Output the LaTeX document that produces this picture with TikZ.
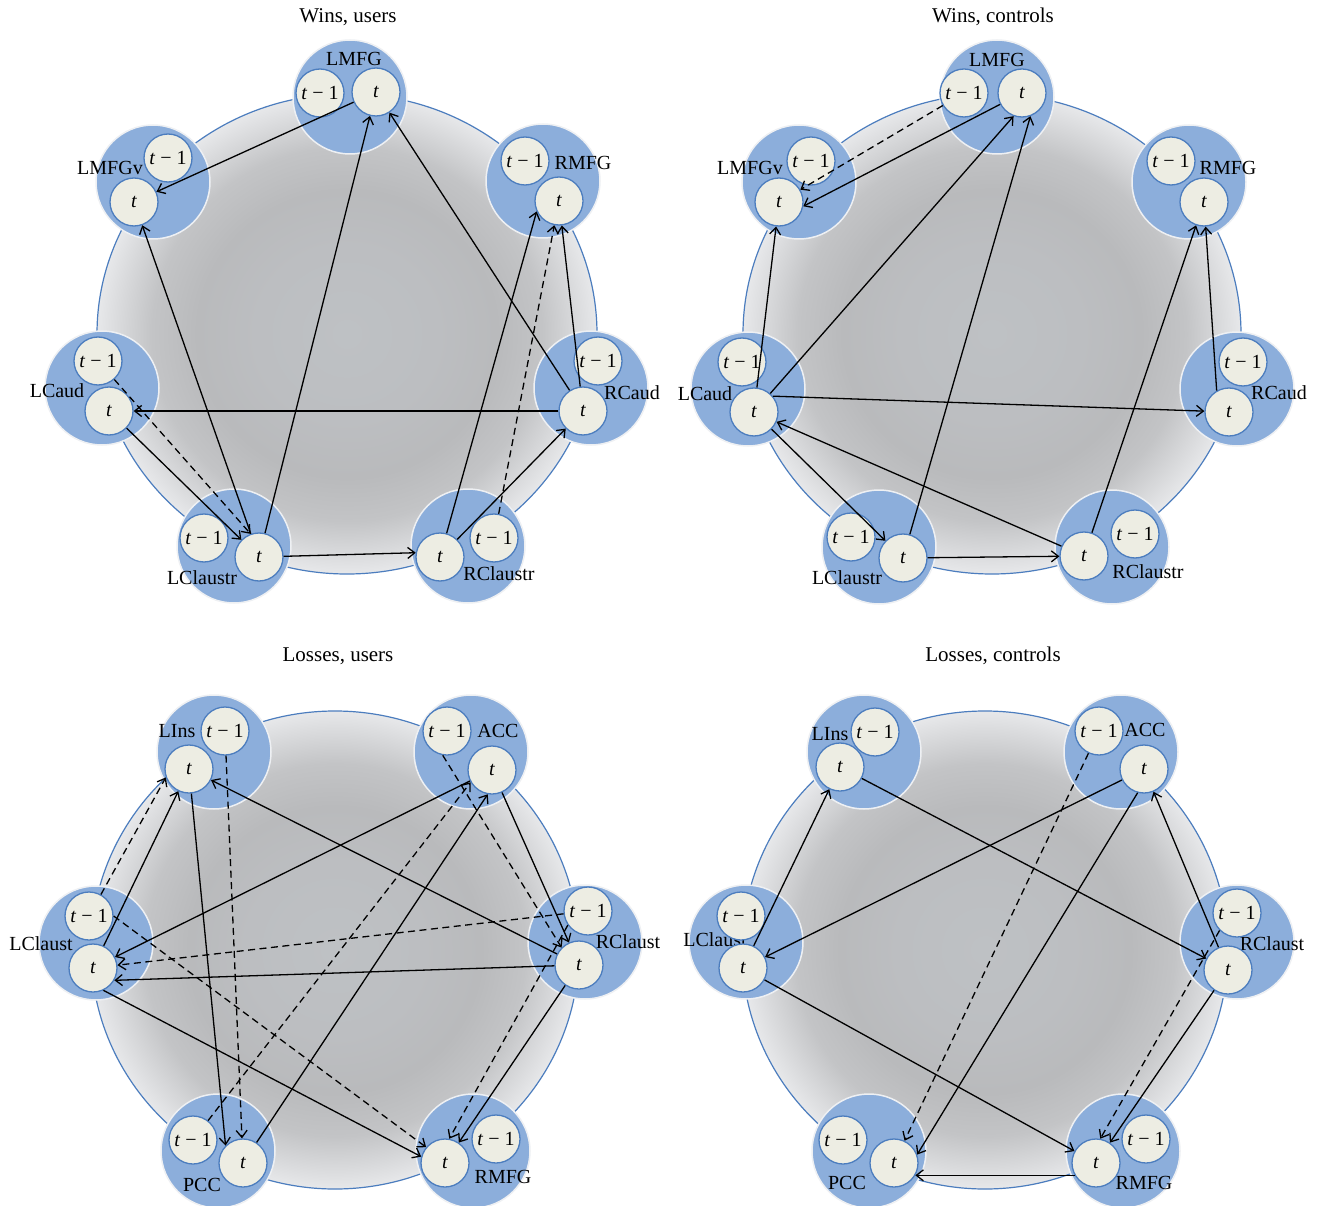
\documentclass[tikz,border=0pt]{standalone}
\usepackage{fontspec}
\setmainfont{Liberation Serif}
\usetikzlibrary{arrows.meta}
\definecolor{outerfill}{HTML}{8CAEDB}
\definecolor{outerline}{HTML}{EEF0F3}
\definecolor{innerfill}{HTML}{EDEDE3}
\definecolor{innerline}{HTML}{4C7DBE}
\definecolor{bigline}{HTML}{4C7DBE}
\definecolor{bga}{HTML}{BEC1C4}
\definecolor{bgb}{HTML}{BCBEC1}
\definecolor{bgc}{HTML}{B9BABC}
\definecolor{bgm}{HTML}{C3C4C6}
\definecolor{bge}{HTML}{E7E8EA}
\pgfdeclareradialshading{bigsh}{\pgfpoint{0bp}{0bp}}{color(0bp)=(bga); color(9bp)=(bgb); color(15bp)=(bgc); color(19.5bp)=(bgm); color(25bp)=(bge); color(50bp)=(bge)}
\newcommand{\region}[6]{%
  \node[outerc] (#1) at (#2) {};
  \node[lbl] (#1-l) at (#5) {#6};
  \node[innerc] (#1-p) at (#3) {\textit{t} − 1};
  \node[innerc] (#1-t) at (#4) {\textit{t}};
}
\begin{document}
\begin{tikzpicture}[x=1pt,y=-1pt,
  outerc/.style={circle, minimum size=114pt, inner sep=0pt, fill=outerfill, draw=outerline, line width=1.5pt},
  innerc/.style={circle, minimum size=48pt, inner sep=0pt, fill=innerfill, draw=innerline, line width=1.3pt, font=\fontsize{20}{24}\selectfont},
  lbl/.style={inner sep=0pt, font=\fontsize{20}{24}\selectfont},
  ttl/.style={inner sep=0pt, font=\fontsize{21}{25}\selectfont},
  lnk/.style={draw=black, line width=1.3pt, -{Straight Barb[length=7pt,width=11pt]}},
  dlnk/.style={lnk, dash pattern=on 7pt off 4.5pt},
  bigc/.style={shading=bigsh, draw=bigline, line width=1.2pt}
]
\useasboundingbox[fill=white] (0,0) rectangle (1320,1206);

% titles
\node[ttl] (T1) at (348,17) {Wins, users};
\node[ttl] (T2) at (993,17) {Wins, controls};
\node[ttl] (T3) at (338,656) {Losses, users};
\node[ttl] (T4) at (993,656) {Losses, controls};

% background discs
\shadedraw[bigc] (347,334) ellipse [x radius=250pt, y radius=240pt];
\shadedraw[bigc] (992,334) ellipse [x radius=249pt, y radius=240pt];
\shadedraw[bigc] (335,950) ellipse [x radius=244pt, y radius=239pt];
\shadedraw[bigc] (985,950) ellipse [x radius=243pt, y radius=239pt];

% ---------- Panel A: Wins, users ----------
\region{A-LMFG}{350,97}{320,93}{376,92}{354,59}{LMFG}
\region{A-LMFGv}{153,182}{168,158}{134,202}{110,168}{LMFGv}
\region{A-RMFG}{543,181}{525,161}{559,201}{583,163}{RMFG}
\region{A-LCaud}{102,388}{98,361}{109,411}{57,391}{LCaud}
\region{A-RCaud}{591,388}{598,361}{583,411}{632,393}{RCaud}
\region{A-LClaustr}{234,546}{204,538}{259,557}{202,578}{LClaustr}
\region{A-RClaustr}{468,546}{494,538}{440,557}{499,574}{RClaustr}

\draw[lnk] (A-LMFG-t) -- (A-LMFGv-t);
\draw[lnk] (A-LClaustr-t) -- (A-LMFGv-t);
\draw[lnk] (A-LClaustr-t) -- (A-LMFG-t);
\draw[lnk] (A-RCaud-t) -- (A-LMFG-t);
\draw[lnk] (A-RCaud-t) -- (A-LCaud-t);
\draw[lnk] (A-LCaud-t) -- (A-LClaustr-t);
\draw[dlnk] (A-LCaud-p) -- (A-LClaustr-t.110);
\draw[lnk] (A-LClaustr-t) -- (A-RClaustr-t.170);
\draw[lnk] (A-RClaustr-t) -- (A-RMFG-t.205);
\draw[lnk] (A-RClaustr-t) -- (A-RCaud-t);
\draw[dlnk] (A-RClaustr-p) -- (A-RMFG-t);
\draw[lnk] (A-RCaud-t) -- (A-RMFG-t);

% ---------- Panel B: Wins, controls ----------
\region{B-LMFG}{997,97}{964,93}{1022,93}{997,60}{LMFG}
\region{B-LMFGv}{799,182}{811,161}{779,202}{750,168}{LMFGv}
\region{B-RMFG}{1189,182}{1171,161}{1204,202}{1228,168}{RMFG}
\region{B-LCaud}{748,389}{742,362}{754,412}{705,394}{LCaud}
\region{B-RCaud}{1237,389}{1243,362}{1229,412}{1279,393}{RCaud}
\region{B-LClaustr}{879,547}{851,537}{903,558}{847,578}{LClaustr}
\region{B-RClaustr}{1112,547}{1135,534}{1084,556}{1148,572}{RClaustr}

\draw[dlnk] (B-LMFG-p) -- (B-LMFGv-t.30);
\draw[lnk] (B-LMFG-t) -- (B-LMFGv-t.350);
\draw[lnk] (B-LCaud-t) -- (B-LMFGv-t);
\draw[lnk] (B-LCaud-t) -- (B-LMFG-t.250);
\draw[lnk] (B-LClaustr-t) -- (B-LMFG-t.290);
\draw[lnk] (B-LCaud-t.40) -- (B-RCaud-t);
\draw[lnk] (B-LCaud-t) -- (B-LClaustr-t);
\draw[lnk] (B-RClaustr-t) -- (B-LCaud-t);
\draw[lnk] (B-LClaustr-t) -- (B-RClaustr-t);
\draw[lnk] (B-RClaustr-t) -- (B-RMFG-t);
\draw[lnk] (B-RCaud-t.120) -- (B-RMFG-t);

% ---------- Panel C: Losses, users ----------
\region{C-LIns}{214,752}{225,731}{189,769}{177,731}{LIns}
\region{C-ACC}{471,752}{447,731}{492,770}{498,731}{ACC}
\region{C-LClaust}{96,943}{89,916}{93,968}{41,944}{LClaust}
\region{C-RClaust}{585,942}{588,911}{579,965}{628,942}{RClaust}
\region{C-PCC}{218,1151}{193,1140}{243,1163}{202,1185}{PCC}
\region{C-RMFG}{473,1151}{496,1139}{445,1163}{503,1177}{RMFG}

\draw[dlnk] (C-LClaust-p) -- (C-LIns-t.200);
\draw[lnk] (C-LClaust-t) -- (C-LIns-t);
\draw[lnk] (C-LIns-t) -- (C-PCC-t.135);
\draw[dlnk] (C-LIns-p) -- (C-PCC-t);
\draw[lnk] (C-RClaust-t) -- (C-LIns-t);
\draw[lnk] (C-ACC-t) -- (C-LClaust-t);
\draw[dlnk] (C-ACC-p.260) -- (C-RClaust-t.135);
\draw[lnk] (C-ACC-t) -- (C-RClaust-t);
\draw[dlnk] (C-PCC-p) -- (C-ACC-t.210);
\draw[lnk] (C-PCC-t) -- (C-ACC-t.260);
\draw[dlnk] (C-RClaust-p) -- (C-LClaust-t);
\draw[lnk] (C-RClaust-t) -- (C-LClaust-t.330);
\draw[dlnk] (C-LClaust-p.east) -- (C-RMFG-t.140);
\draw[lnk] (C-LClaust-t.295) -- (C-RMFG-t.165);
\draw[dlnk] (C-RClaust-p.215) -- (C-RMFG-t.80);
\draw[lnk] (C-RClaust-t) -- (C-RMFG-t);

% ---------- Panel D: Losses, controls ----------
\region{D-LIns}{864,752}{875,732}{840,767}{830,734}{LIns}
\region{D-ACC}{1121,752}{1099,731}{1144,769}{1145,730}{ACC}
\region{D-LClaust}{746,942}{741,916}{743,968}{715,940}{LClaust}
\region{D-RClaust}{1237,942}{1237,913}{1228,970}{1272,944}{RClaust}
\region{D-PCC}{869,1151}{843,1140}{894,1163}{847,1183}{PCC}
\region{D-RMFG}{1123,1151}{1146,1139}{1096,1163}{1144,1183}{RMFG}

\draw[lnk] (D-LClaust-t) -- (D-LIns-t);
\draw[lnk] (D-LIns-t) -- (D-RClaust-t);
\draw[lnk] (D-ACC-t) -- (D-LClaust-t);
\draw[dlnk] (D-ACC-p) -- (D-PCC-t);
\draw[lnk] (D-ACC-t.255) -- (D-PCC-t.20);
\draw[lnk] (D-RClaust-t) -- (D-ACC-t);
\draw[lnk] (D-LClaust-t) -- (D-RMFG-t);
\draw[dlnk] (D-RClaust-p.225) -- (D-RMFG-t.80);
\draw[lnk] (D-RClaust-t) -- (D-RMFG-t);
\draw[lnk] (D-RMFG-t.210) -- (D-PCC-t.330);
\end{tikzpicture}
\end{document}
